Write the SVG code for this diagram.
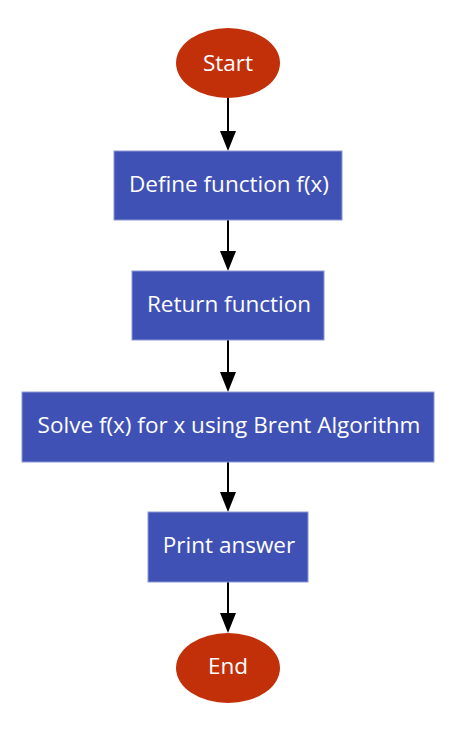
<svg xmlns="http://www.w3.org/2000/svg" width="467" height="733" viewBox="0 0 467 733">
<defs>
<style>
.term{fill:#C2300A;}
.proc{fill:#3F51B5;stroke:#8C97D6;stroke-width:1;}
.lbl{font-family:"Open Sans","Noto Sans",sans-serif;font-size:22.5px;fill:#FFFFFF;text-anchor:middle;dominant-baseline:central;}
.edge{stroke:#000;stroke-width:2;fill:none;}
</style>
</defs>
<rect width="467" height="733" fill="#fff"/>
<g id="connectors">
<line class="edge" x1="228" y1="98" x2="228" y2="133"/>
<path d="M220,131 L236,131 L228,151 Z" fill="#000"/>
<line class="edge" x1="228" y1="220" x2="228" y2="253"/>
<path d="M220,251 L236,251 L228,271 Z" fill="#000"/>
<line class="edge" x1="228" y1="340" x2="228" y2="374"/>
<path d="M220,372 L236,372 L228,392 Z" fill="#000"/>
<line class="edge" x1="228" y1="462" x2="228" y2="494"/>
<path d="M220,492 L236,492 L228,512 Z" fill="#000"/>
<line class="edge" x1="228" y1="582" x2="228" y2="615"/>
<path d="M220,613 L236,613 L228,633 Z" fill="#000"/>
</g>
<g id="start">
<ellipse class="term" cx="228" cy="63" rx="52" ry="35"/>
<text class="lbl" x="228" y="62">Start</text>
</g>
<g id="define">
<rect class="proc" x="114" y="151" width="228" height="69"/>
<text class="lbl" x="229" y="183">Define function f(x)</text>
</g>
<g id="return">
<rect class="proc" x="132" y="271" width="192" height="69"/>
<text class="lbl" x="229" y="303">Return function</text>
</g>
<g id="solve">
<rect class="proc" x="22" y="392" width="412" height="70"/>
<text class="lbl" x="229" y="424">Solve f(x) for x using Brent Algorithm</text>
</g>
<g id="print">
<rect class="proc" x="148" y="512" width="160" height="70"/>
<text class="lbl" x="229" y="544">Print answer</text>
</g>
<g id="end">
<ellipse class="term" cx="228" cy="668" rx="52" ry="35"/>
<text class="lbl" x="228" y="665">End</text>
</g>
</svg>
